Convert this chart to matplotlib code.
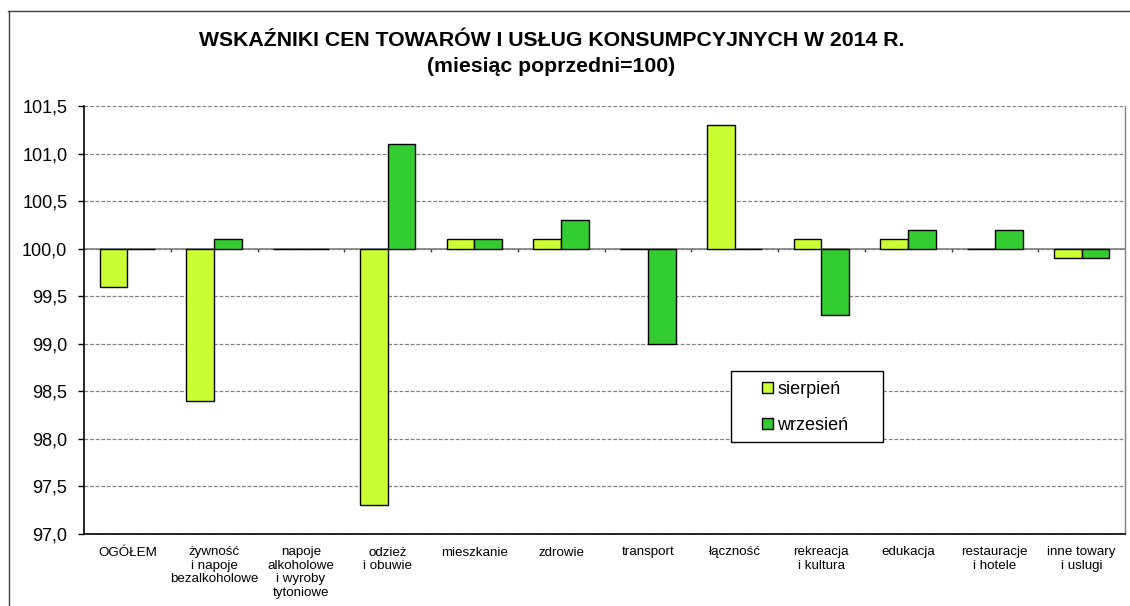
import matplotlib
matplotlib.use("Agg")
import matplotlib.pyplot as plt
import numpy as np
from matplotlib.lines import Line2D
from matplotlib.patches import Rectangle

plt.rcParams['font.family'] = ['Liberation Sans', 'DejaVu Sans']

categories = ["OGÓŁEM", "żywność\ni napoje\nbezalkoholowe", "napoje\nalkoholowe\ni wyroby\ntytoniowe",
              "odzież\ni obuwie", "mieszkanie", "zdrowie", "transport", "łączność",
              "rekreacja\ni kultura", "edukacja", "restauracje\ni hotele", "inne towary\ni uslugi"]
sierpien = [99.6, 98.4, 100.0, 97.3, 100.1, 100.1, 100.0, 101.3, 100.1, 100.1, 100.0, 99.9]
wrzesien = [100.0, 100.1, 100.0, 101.1, 100.1, 100.3, 99.0, 100.0, 99.3, 100.2, 100.2, 99.9]
series_names = ["sierpień", "wrzesień"]
yticks = [97.0, 97.5, 98.0, 98.5, 99.0, 99.5, 100.0, 100.5, 101.0, 101.5]
base = 100.0

W, H = 1130, 606
fig = plt.figure(figsize=(W / 100, H / 100), dpi=100)
ax = fig.add_axes([84 / W, 1 - 534 / H, (1125 - 84) / W, (534 - 106) / H])

x = np.arange(len(categories))
bw = 0.32
c1, c2 = "#CCFF33", "#33CC33"
ax.bar(x - bw / 2, np.array(sierpien) - base, bw, bottom=base, color=c1,
       edgecolor="black", linewidth=1.0, label=series_names[0], zorder=3)
ax.bar(x + bw / 2, np.array(wrzesien) - base, bw, bottom=base, color=c2,
       edgecolor="black", linewidth=1.0, label=series_names[1], zorder=3)

ax.set_xlim(-0.5, len(categories) - 0.5)
ax.set_ylim(yticks[0], yticks[-1])
ax.set_yticks(yticks)
ax.set_yticklabels([f"{v:.1f}".replace(".", ",") for v in yticks], fontsize=13)
ax.tick_params(axis='y', length=4, width=1, pad=8, direction='out')
ax.set_xticks(x)
ax.set_xticklabels(categories, fontsize=9.6, linespacing=1.15, va='top')
ax.tick_params(axis='x', length=0, pad=9)

ax.yaxis.grid(True, linestyle=(0, (3, 1.5)), color="#808080", linewidth=0.9)
ax.set_axisbelow(True)

# category axis crossing at 100
ax.axhline(base, color="#808080", linewidth=1.2, zorder=2)
bounds = np.arange(len(categories) + 1) - 0.5
ax.vlines(bounds[1:-1], base - 0.035, base, color="#404040", linewidth=1.0, zorder=2)

for s in ['left', 'bottom']:
    ax.spines[s].set_color("black")
    ax.spines[s].set_linewidth(1.2)
ax.spines['top'].set_visible(False)
ax.spines['right'].set_color("#808080")
ax.spines['right'].set_linewidth(1.0)

# legend frame
ax.add_patch(Rectangle((0.6215, 0.215), 0.146, 0.166, transform=ax.transAxes,
                       facecolor="white", edgecolor="black", linewidth=1.0, zorder=5))
leg = ax.legend(loc='center left', bbox_to_anchor=(0.651, 0.2956), fontsize=13,
                frameon=False, handlelength=0.6, handleheight=0.6, handletextpad=0.25,
                labelspacing=1.05, borderpad=0.0, borderaxespad=0.0)
leg.set_zorder(6)

fig.text(551.5 / W, 1 - 40 / H, "WSKAŹNIKI CEN TOWARÓW I USŁUG KONSUMPCYJNYCH W 2014 R.",
         ha='center', va='center', fontsize=15.3, fontweight='bold')
fig.text(551.5 / W, 1 - 67 / H, "(miesiąc poprzedni=100)",
         ha='center', va='center', fontsize=15.3, fontweight='bold')

# outer chart border
fig.add_artist(Line2D([8 / W, 1.0], [1 - 10.5 / H, 1 - 10.5 / H], transform=fig.transFigure,
                      color="#404040", linewidth=1.0))
fig.add_artist(Line2D([8.5 / W, 8.5 / W], [0, 1 - 10.5 / H], transform=fig.transFigure,
                      color="#404040", linewidth=1.0))

fig.savefig("out.png", dpi=100)
